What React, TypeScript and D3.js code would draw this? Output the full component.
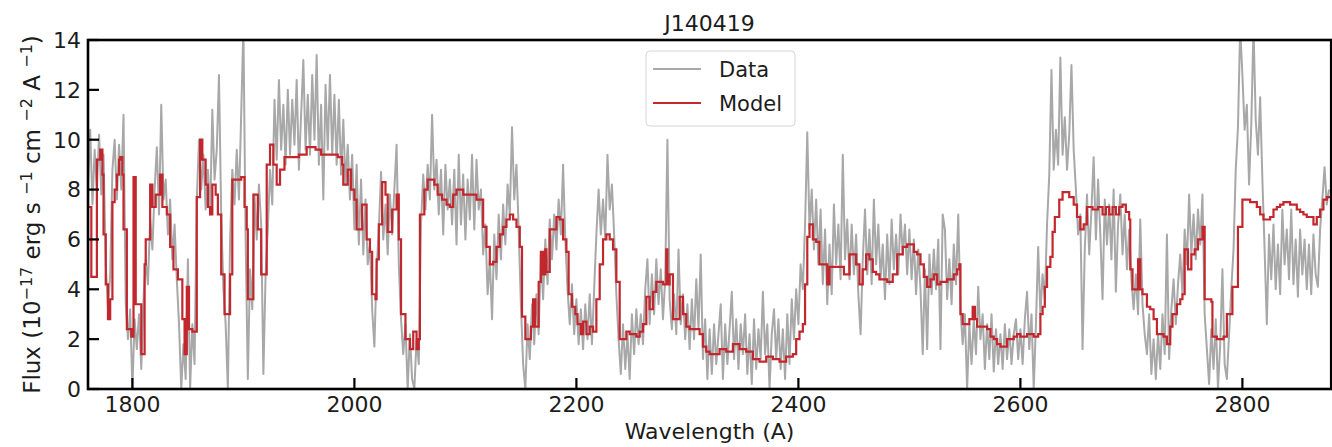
import React from 'react';
import * as d3 from 'd3';

const TITLE = 'J140419';
const X_LABEL = 'Wavelength (A)';
const X_TICKS = [1800, 2000, 2200, 2400, 2600, 2800];
const Y_TICKS = [0, 2, 4, 6, 8, 10, 12, 14];
const SERIES_NAMES = ['Data', 'Model'];

// observed spectrum, uniformly sampled every 2 A from 1760 A
const DATA_START = 1760;
const DATA_STEP = 2;
const dataFlux = [
  8.2, 10.4, 7.4, 9.6, 8.0, 10.2, 7.8, 9.4, 5.0, 3.2,
  4.6, 8.8, 10.0, 7.6, 9.8, 8.0, 11.0, 3.4, 2.0, 3.2,
  0.0, 2.8, 1.6, 3.0, 0.8, 3.6, 5.2, 4.2, 6.8, 5.6,
  8.0, 9.7, 7.0, 11.4, 7.6, 8.4, 6.2, 7.6, 5.2, 6.6,
  4.4, 2.6, 0.0, 1.8, 0.4, 5.2, 0.0, 2.6, 1.0, 7.6,
  10.0, 8.0, 9.4, 7.2, 8.8, 7.0, 11.2, 8.4, 9.6, 12.6,
  7.0, 4.0, 2.6, 0.0, 6.0, 8.8, 7.4, 9.6, 7.6, 11.0,
  14.5, 6.0, 0.4, 4.8, 3.2, 7.8, 6.0, 8.2, 6.6, 0.6,
  4.6, 6.4, 8.8, 7.4, 11.6, 9.2, 12.4, 9.6, 11.4, 9.0,
  12.0, 9.4, 11.6, 9.8, 12.4, 8.8, 11.0, 13.2, 9.6, 11.8,
  9.4, 12.6, 10.0, 13.4, 9.0, 11.4, 7.6, 12.2, 9.6, 12.6,
  9.4, 11.8, 9.0, 11.6, 8.6, 10.8, 8.2, 9.8, 7.6, 9.4,
  6.4, 9.0, 5.8, 8.4, 5.4, 7.6, 5.0, 5.8, 3.2, 1.7,
  4.8, 6.4, 8.7, 6.0, 7.4, 5.4, 7.8, 6.2, 8.0, 9.8,
  5.0, 2.8, 1.4, 2.6, 0.0, 2.2, 0.4, 0.0, 2.0, 1.0,
  6.6, 8.6, 7.2, 9.0, 7.6, 11.0, 8.0, 9.2, 7.0, 8.8,
  6.2, 9.0, 7.2, 8.4, 6.6, 8.8, 5.8, 9.4, 6.6, 8.6,
  6.0, 8.4, 6.8, 9.4, 6.4, 9.2, 7.2, 8.0, 5.4, 6.6,
  3.8, 5.2, 2.8, 6.2, 4.4, 7.0, 5.2, 7.4, 5.8, 8.2,
  7.0, 10.5, 7.6, 9.0, 6.4, 3.4, 1.0, 0.0, 2.6, 1.2,
  3.4, 1.8, 3.8, 2.2, 5.4, 3.6, 6.0, 4.2, 6.8, 5.2,
  7.0, 5.6, 7.6, 6.2, 9.0, 6.0, 4.0, 2.6, 4.2, 2.2,
  3.6, 1.8, 3.2, 1.6, 3.4, 2.0, 3.8, 1.8, 4.0, 6.2,
  8.0, 6.2, 7.6, 6.0, 9.4, 7.2, 8.2, 6.2, 3.8, 2.0,
  0.6, 2.6, 0.8, 2.2, 0.4, 3.0, 1.4, 3.2, 1.8, 3.0,
  1.8, 4.0, 5.2, 2.6, 4.6, 3.0, 5.2, 3.4, 4.8, 2.8,
  4.4, 10.0, 3.6, 2.4, 3.8, 2.2, 5.6, 2.6, 3.8, 2.0,
  3.4, 1.6, 3.6, 2.0, 4.4, 2.4, 5.4, 1.2, 2.8, 0.4,
  2.4, 0.6, 2.6, 1.0, 2.2, 3.4, 0.4, 2.6, 1.0, 2.4,
  3.9, 1.2, 2.8, 0.8, 2.6, 1.4, 3.0, 0.6, 2.2, 0.2,
  2.8, 0.8, 2.4, 1.2, 3.9, 1.4, 2.6, 0.0, 2.2, 3.2,
  1.2, 2.8, 0.8, 2.4, 0.4, 3.0, 1.0, 3.6, 2.0, 4.0,
  2.6, 5.0, 4.0, 6.6, 10.3, 6.4, 8.0, 5.6, 7.6, 5.0,
  7.2, 4.2, 6.4, 3.4, 5.8, 3.8, 7.4, 5.0, 6.6, 4.4,
  9.4, 5.2, 6.8, 4.4, 6.6, 4.6, 6.2, 3.8, 2.2, 5.2,
  7.2, 4.6, 6.4, 4.2, 7.6, 5.0, 6.6, 4.4, 5.8, 3.6,
  6.2, 4.2, 6.8, 4.8, 6.2, 4.6, 7.0, 5.4, 6.6, 4.6,
  6.4, 4.4, 6.0, 3.8, 5.6, 4.0, 1.4, 4.8, 1.6, 5.4,
  3.8, 5.6, 4.0, 6.0, 1.6, 7.0, 6.4, 3.6, 5.2, 3.4,
  5.8, 4.2, 7.0, 3.2, 1.8, 3.0, 0.0, 2.6, 1.0, 2.8,
  1.4, 4.1, 2.0, 3.0, 0.8, 2.6, 1.2, 3.0, 0.7, 2.4,
  1.0, 2.2, 0.8, 2.6, 1.2, 2.4, 1.0, 2.2, 2.8, 1.2,
  2.4, 1.0, 2.8, 3.9, 1.6, 3.0, 0.0, 2.6, 5.7, 3.0,
  4.6, 3.6, 6.6, 8.6, 12.8, 8.8, 10.4, 9.0, 13.3, 9.4,
  10.9, 8.8, 10.2, 13.0, 9.6, 8.0, 6.2, 7.0, 1.6, 5.6,
  7.8, 5.4, 7.2, 9.3, 6.0, 8.4, 6.2, 3.6, 7.6, 5.8,
  7.4, 5.2, 8.0, 3.9, 6.6, 7.8, 5.4, 7.0, 4.8, 6.4,
  4.4, 3.2, 4.6, 3.0, 6.8, 3.4, 2.2, 1.4, 3.0, 0.6,
  2.0, 0.4, 2.2, 0.8, 3.0, 1.4, 6.2, 1.2, 3.2, 4.4,
  2.6, 4.2, 5.4, 3.8, 6.4, 5.0, 7.8, 5.4, 7.0, 5.2,
  7.2, 5.8, 7.8, 3.0, 1.6, 0.2, 2.4, 0.8, 2.8, 0.0,
  1.8, 4.8, 1.0, 0.4, 2.2, 4.0, 5.6, 8.8, 10.5, 14.5,
  12.6, 10.4, 11.4, 8.2, 10.6, 14.5, 10.8, 9.4, 11.7, 8.4,
  5.6, 2.6, 6.2, 4.4, 6.6, 4.0, 5.8, 3.8, 7.2, 5.0,
  6.4, 4.4, 7.2, 4.2, 6.0, 3.7, 6.4, 4.6, 6.0, 4.0,
  5.8, 3.8, 6.2, 4.6, 4.1, 6.4, 7.6, 8.9, 7.4, 8.0,
];

// model: step function knots (wavelength, flux)
const modelWave = [
  1760, 1763, 1768, 1771, 1773, 1774, 1776, 1778, 1780, 1782, 1784, 1786, 1788, 1789, 1791, 1792, 1795, 1799,
  1801, 1803, 1808, 1811, 1812, 1816, 1818, 1821, 1825, 1827, 1831, 1834, 1837, 1841, 1845, 1847, 1849, 1851,
  1854, 1858, 1861, 1863, 1866, 1868, 1870, 1872, 1875, 1877, 1880, 1883, 1888, 1890, 1898, 1901, 1903, 1904,
  1909, 1913, 1916, 1921, 1924, 1927, 1930, 1933, 1937, 1950, 1957, 1965, 1970, 1985, 1989, 1990, 1994, 1997,
  2000, 2002, 2007, 2011, 2014, 2016, 2019, 2020, 2022, 2025, 2028, 2030, 2034, 2038, 2040, 2042, 2046, 2050,
  2053, 2056, 2058, 2059, 2063, 2066, 2072, 2075, 2079, 2083, 2086, 2089, 2092, 2098, 2104, 2110, 2113, 2116,
  2119, 2122, 2125, 2128, 2131, 2134, 2137, 2140, 2143, 2146, 2149, 2151, 2154, 2159, 2161, 2163, 2166, 2168,
  2170, 2172, 2173, 2176, 2182, 2185, 2188, 2191, 2193, 2196, 2199, 2201, 2204, 2206, 2209, 2212, 2215, 2218,
  2221, 2224, 2227, 2230, 2233, 2236, 2239, 2245, 2248, 2254, 2257, 2260, 2263, 2266, 2269, 2272, 2278, 2281,
  2282, 2284, 2287, 2293, 2296, 2299, 2302, 2311, 2314, 2317, 2320, 2329, 2335, 2341, 2347, 2353, 2359, 2365,
  2371, 2377, 2383, 2389, 2395, 2398, 2401, 2404, 2406, 2408, 2410, 2413, 2416, 2419, 2426, 2428, 2437, 2441,
  2446, 2452, 2455, 2458, 2461, 2464, 2467, 2470, 2473, 2480, 2485, 2489, 2494, 2498, 2504, 2507, 2510, 2513,
  2516, 2519, 2522, 2525, 2528, 2534, 2540, 2543, 2545, 2546, 2548, 2554, 2557, 2559, 2561, 2570, 2573, 2576,
  2579, 2582, 2588, 2594, 2597, 2600, 2606, 2612, 2616, 2618, 2620, 2622, 2624, 2627, 2629, 2631, 2635, 2638,
  2644, 2648, 2651, 2654, 2657, 2660, 2665, 2670, 2674, 2677, 2680, 2683, 2686, 2689, 2692, 2695, 2698, 2699,
  2701, 2706, 2708, 2710, 2714, 2717, 2720, 2723, 2729, 2732, 2735, 2737, 2741, 2744, 2746, 2748, 2751, 2754,
  2757, 2760, 2764, 2766, 2772, 2773, 2777, 2783, 2786, 2791, 2796, 2800, 2807, 2813, 2816, 2819, 2822, 2825,
  2828, 2831, 2834, 2837, 2843, 2849, 2852, 2855, 2858, 2861, 2864, 2867, 2870, 2873, 2876, 2880,
];
const modelFlux = [
  7.3, 4.5, 9.2, 9.6, 8.6, 6.2, 4.2, 2.8, 3.6, 7.5, 8.0, 8.6, 9.2, 9.3, 8.6, 6.4, 2.4, 2.1,
  8.5, 3.4, 1.4, 5.0, 6.0, 8.2, 7.3, 7.8, 8.6, 7.3, 7.0, 5.7, 4.8, 4.4, 2.8, 1.4, 4.1, 2.4,
  2.3, 7.7, 10.0, 9.2, 8.2, 7.3, 7.0, 8.2, 7.8, 7.0, 4.6, 3.0, 4.6, 8.4, 8.5, 7.3, 6.4, 3.6,
  7.8, 6.4, 4.6, 9.0, 9.8, 9.0, 8.2, 8.8, 9.3, 9.4, 9.7, 9.6, 9.4, 9.3, 9.0, 8.2, 8.8, 8.0,
  7.6, 6.4, 7.4, 6.0, 5.5, 3.8, 3.6, 5.2, 6.6, 8.3, 7.8, 6.3, 7.2, 7.8, 6.0, 3.0, 2.0, 1.6,
  2.3, 1.6, 2.0, 7.0, 8.0, 8.4, 8.2, 7.8, 7.6, 7.4, 7.3, 7.8, 8.0, 7.8, 7.8, 7.6, 7.6, 6.5,
  5.7, 5.0, 5.1, 5.7, 6.2, 6.5, 6.8, 7.0, 6.8, 6.5, 5.7, 2.9, 2.0, 2.5, 3.6, 2.5, 4.3, 5.5,
  4.6, 5.6, 4.7, 6.4, 6.9, 6.8, 6.0, 5.5, 3.8, 3.3, 3.0, 2.6, 2.2, 2.7, 2.2, 2.5, 2.3, 3.6,
  5.0, 6.0, 6.2, 6.0, 5.6, 4.3, 2.0, 2.3, 2.2, 2.1, 2.3, 2.6, 3.7, 3.2, 3.9, 4.3, 4.2, 5.6,
  4.2, 4.6, 2.8, 3.7, 3.0, 2.5, 2.4, 2.2, 1.7, 1.5, 1.4, 1.6, 1.5, 1.8, 1.6, 1.5, 1.2, 1.1,
  1.3, 1.2, 1.1, 1.3, 1.4, 2.0, 2.3, 2.6, 4.2, 6.1, 6.6, 6.0, 5.9, 5.0, 4.2, 4.9, 4.9, 4.6,
  5.4, 5.0, 4.2, 4.8, 5.4, 5.2, 4.7, 4.6, 4.4, 4.3, 4.6, 5.4, 5.7, 5.8, 5.5, 5.4, 5.0, 4.5,
  4.1, 4.4, 4.6, 4.2, 4.3, 4.4, 4.6, 4.8, 5.0, 3.0, 2.6, 2.8, 3.3, 2.8, 2.5, 2.4, 2.1, 2.0,
  1.8, 1.7, 2.0, 2.1, 2.2, 2.1, 2.2, 2.1, 2.2, 3.0, 3.3, 4.1, 4.9, 5.3, 6.3, 6.9, 7.6, 7.9,
  7.7, 7.4, 6.9, 6.4, 6.6, 7.3, 7.2, 7.3, 7.0, 7.3, 7.0, 7.3, 7.0, 7.3, 7.4, 7.1, 6.8, 4.8,
  4.0, 5.2, 4.0, 3.8, 3.3, 3.2, 2.8, 2.2, 2.1, 1.8, 2.5, 3.0, 3.4, 3.6, 3.8, 5.6, 4.8, 5.4,
  5.6, 6.0, 6.5, 3.6, 3.5, 2.1, 2.0, 2.1, 3.0, 4.1, 6.5, 7.6, 7.5, 7.3, 7.0, 6.8, 6.8, 6.9,
  7.2, 7.3, 7.4, 7.5, 7.4, 7.2, 7.1, 7.0, 6.9, 6.9, 6.6, 6.9, 7.2, 7.6, 7.7, 7.7,
];

const FONT = "'DejaVu Sans', sans-serif";
const TEXT = '#1c1c1c';
const DATA_COLOR = '#a8a8a8';
const MODEL_COLOR = '#c1272d';

export default function App() {
  const W = 1332;
  const H = 447;
  const left = 88, right = 1331.2, top = 40, bottom = 389;
  const x = d3.scaleLinear().domain([1760, 2880]).range([left, right]);
  const y = d3.scaleLinear().domain([0, 14]).range([bottom, top]);

  const dataPts: [number, number][] = dataFlux.map((f, i) => [DATA_START + i * DATA_STEP, f]);
  const modelPts: [number, number][] = modelWave.map((w, i) => [w, modelFlux[i]]);

  const lineGen = d3.line<[number, number]>().x(d => x(d[0])).y(d => y(d[1]));
  const stepGen = d3.line<[number, number]>().x(d => x(d[0])).y(d => y(d[1])).curve(d3.curveStepAfter);

  const tickLen = 11;

  return (
    <svg width={W} height={H} style={{ position: 'absolute', left: 0, top: 0, background: '#fff' }} fontFamily={FONT}>
      <defs>
        <clipPath id="plotClip">
          <rect x={left} y={top} width={right - left} height={bottom - top} />
        </clipPath>
      </defs>
      <rect x={0} y={0} width={W} height={H} fill="#fff" />

      <g clipPath="url(#plotClip)">
        <path d={lineGen(dataPts) || ''} fill="none" stroke={DATA_COLOR} strokeWidth={2} strokeLinejoin="round" />
        <path d={stepGen(modelPts) || ''} fill="none" stroke={MODEL_COLOR} strokeWidth={2.2} />
      </g>

      {/* ticks (inward) */}
      {X_TICKS.map(t => (
        <g key={'xt' + t}>
          <line x1={x(t)} x2={x(t)} y1={bottom} y2={bottom - tickLen} stroke="#000" strokeWidth={2.2} />
          <text x={x(t)} y={412} textAnchor="middle" fontSize={22} fill={TEXT}>{t}</text>
        </g>
      ))}
      {Y_TICKS.map(t => (
        <g key={'yt' + t}>
          <line x1={left} x2={left + tickLen} y1={y(t)} y2={y(t)} stroke="#000" strokeWidth={2.2} />
          <text x={81} y={y(t)} dy="0.36em" textAnchor="end" fontSize={22} fill={TEXT}>{t}</text>
        </g>
      ))}

      {/* spines */}
      <rect x={left} y={top} width={right - left} height={bottom - top} fill="none" stroke="#000" strokeWidth={2.6} />

      {/* title */}
      <text x={(left + right) / 2} y={31} textAnchor="middle" fontSize={22} fill={TEXT}>{TITLE}</text>

      {/* x label */}
      <text x={(left + right) / 2} y={439} textAnchor="middle" fontSize={22} fill={TEXT}>{X_LABEL}</text>

      {/* y label */}
      <text transform={`translate(40, ${(top + bottom) / 2}) rotate(-90)`} textAnchor="middle" fontSize={23} fill={TEXT}>
        Flux (10<tspan dy={-8} fontSize={16}>−17</tspan>
        <tspan dy={8}> erg s </tspan><tspan dy={-8} fontSize={16}>−1</tspan>
        <tspan dy={8}> cm </tspan><tspan dy={-8} fontSize={16}>−2</tspan>
        <tspan dy={8}> A </tspan><tspan dy={-8} fontSize={16}>−1</tspan>
        <tspan dy={8}>)</tspan>
      </text>

      {/* legend */}
      <g>
        <rect x={646} y={51} width={149} height={75} rx={4} fill="#fff" fillOpacity={0.85} stroke="#d6d6d6" strokeWidth={1} />
        <line x1={653} x2={701} y1={69} y2={69} stroke={DATA_COLOR} strokeWidth={2} />
        <line x1={653} x2={701} y1={103} y2={103} stroke={MODEL_COLOR} strokeWidth={2} />
        <text x={719} y={69} dy="0.36em" fontSize={21} fill={TEXT}>{SERIES_NAMES[0]}</text>
        <text x={719} y={103} dy="0.36em" fontSize={21} fill={TEXT}>{SERIES_NAMES[1]}</text>
      </g>
    </svg>
  );
}
